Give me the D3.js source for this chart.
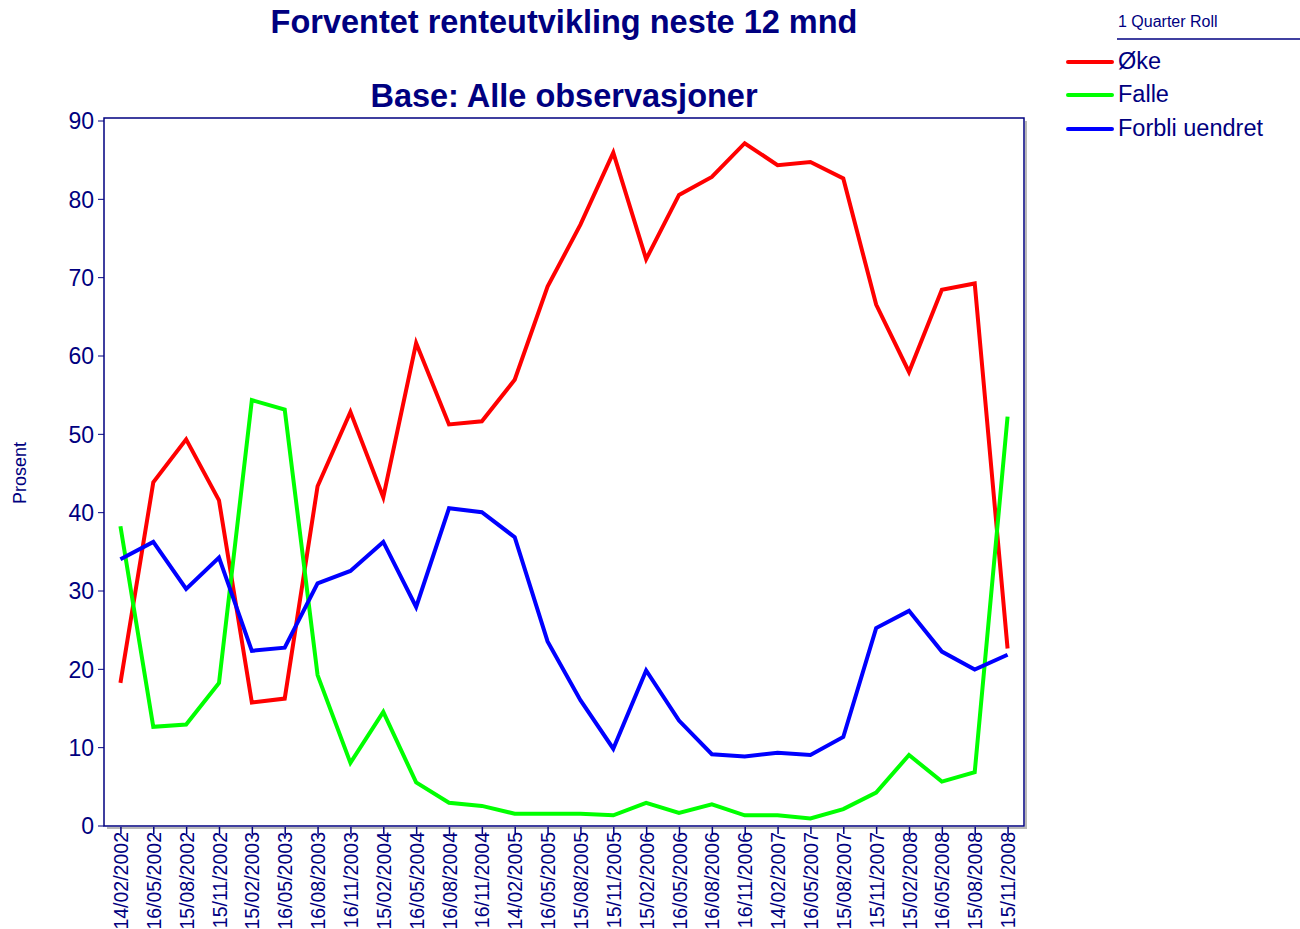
<!DOCTYPE html>
<html>
<head>
<meta charset="utf-8">
<script src="https://cdn.jsdelivr.net/npm/d3@7"></script>
<style>
  body { margin: 0; background: #fff; }
  text { font-family: "Liberation Sans", Arial, sans-serif; fill: #000080; }
</style>
</head>
<body>
<svg width="1300" height="929"></svg>
<script>
// quarterly survey dates
var dates = ["14/02/2002", "16/05/2002", "15/08/2002", "15/11/2002", "15/02/2003", "16/05/2003",
  "16/08/2003", "16/11/2003", "15/02/2004", "16/05/2004", "16/08/2004", "16/11/2004",
  "14/02/2005", "16/05/2005", "15/08/2005", "15/11/2005", "15/02/2006", "16/05/2006",
  "16/08/2006", "16/11/2006", "14/02/2007", "16/05/2007", "15/08/2007", "15/11/2007",
  "15/02/2008", "16/05/2008", "15/08/2008", "15/11/2008"];

var oke = [18.2, 43.8, 49.3, 41.5, 15.7, 16.2, 43.3, 52.8, 41.9, 61.6, 51.2, 51.6, 56.9, 68.8,
  76.7, 85.9, 72.3, 80.5, 82.8, 87.1, 84.3, 84.7, 82.6, 66.5, 57.9, 68.4, 69.2, 22.6];
var falle = [38.2, 12.6, 12.9, 18.2, 54.3, 53.1, 19.2, 8.0, 14.5, 5.5, 2.9, 2.5, 1.5, 1.5,
  1.5, 1.3, 2.9, 1.6, 2.7, 1.3, 1.3, 0.9, 2.1, 4.2, 9.0, 5.6, 6.8, 52.2];
var uendret = [34.0, 36.2, 30.2, 34.2, 22.3, 22.7, 30.9, 32.5, 36.2, 27.9, 40.5, 40.0, 36.8, 23.5,
  16.0, 9.8, 19.8, 13.4, 9.1, 8.8, 9.3, 9.0, 11.3, 25.2, 27.4, 22.2, 19.9, 21.8];

var seriesNames = ["Øke", "Falle", "Forbli uendret"];
var seriesColors = ["#ff0000", "#00ff00", "#0000ff"];
var yTicks = [0, 10, 20, 30, 40, 50, 60, 70, 80, 90];

var navy = "#000080";
var svg = d3.select("svg");

var plotL = 104, plotR = 1024, plotT = 118, plotB = 826;

var x = d3.scalePoint().domain(dates).range([plotL, plotR]).padding(0.5);
var y = d3.scaleLinear().domain([0, 90]).range([825.5, 120.5]);

/* ----------- titles ----------- */
svg.append("text").attr("x", 564).attr("y", 33).attr("text-anchor", "middle")
  .style("font-size", "32.5px").style("font-weight", "bold")
  .text("Forventet renteutvikling neste 12 mnd");
svg.append("text").attr("x", 564).attr("y", 107).attr("text-anchor", "middle")
  .style("font-size", "32.5px").style("font-weight", "bold")
  .text("Base: Alle observasjoner");

/* ----------- frame ----------- */
// grey shadow right / bottom
svg.append("path")
  .attr("d", "M" + (plotR + 2) + "," + (plotT + 3) + "V" + (plotB + 2) + "H" + (plotL + 3))
  .attr("fill", "none").attr("stroke", "#b8b8b8").attr("stroke-width", 2);
svg.append("rect").attr("x", plotL).attr("y", plotT)
  .attr("width", plotR - plotL).attr("height", plotB - plotT)
  .attr("fill", "none").attr("stroke", navy).attr("stroke-width", 1.5);

/* ----------- axes ----------- */
var yAxis = svg.append("g").attr("transform", "translate(" + plotL + ",0)")
  .call(d3.axisLeft(y).tickValues(yTicks).tickSize(6).tickPadding(4));
yAxis.select(".domain").remove();
yAxis.selectAll("line").attr("stroke", navy);
yAxis.selectAll("text").style("font-size", "23px").attr("fill", navy)
  .style("font-family", "'Liberation Sans', Arial, sans-serif").attr("dy", "0.36em");

var xAxis = svg.append("g").attr("transform", "translate(0," + (plotB + 1) + ")")
  .call(d3.axisBottom(x).tickSize(7));
xAxis.select(".domain").remove();
xAxis.selectAll("line").attr("stroke", navy).attr("stroke-width", 1.5);
xAxis.selectAll("text")
  .style("font-size", "19.5px").attr("fill", navy)
  .style("font-family", "'Liberation Sans', Arial, sans-serif")
  .attr("text-anchor", "end")
  .attr("transform", "rotate(-90)")
  .attr("x", -5).attr("y", 0).attr("dy", "0.36em");

svg.append("text")
  .attr("transform", "translate(26,473) rotate(-90)")
  .attr("text-anchor", "middle")
  .style("font-size", "18px")
  .text("Prosent");

/* ----------- lines ----------- */
var series = [oke, falle, uendret];
var line = d3.line()
  .x(function (d, i) { return x(dates[i]); })
  .y(function (d) { return y(d); });

svg.selectAll("path.series").data(series).enter()
  .append("path")
  .attr("class", "series")
  .attr("fill", "none")
  .attr("stroke", function (d, i) { return seriesColors[i]; })
  .attr("stroke-width", 4)
  .attr("d", line);

/* ----------- legend ----------- */
svg.append("text").attr("x", 1118).attr("y", 27).style("font-size", "16px").text("1 Quarter Roll");
svg.append("line").attr("x1", 1117).attr("x2", 1300).attr("y1", 39).attr("y2", 39)
  .attr("stroke", navy).attr("stroke-width", 1.5);

var legendY = [62, 95, 129];
var lg = svg.selectAll("g.legend").data(seriesNames).enter()
  .append("g").attr("class", "legend")
  .attr("transform", function (d, i) { return "translate(0," + legendY[i] + ")"; });
lg.append("line").attr("x1", 1068).attr("x2", 1112)
  .attr("stroke", function (d, i) { return seriesColors[i]; })
  .attr("stroke-width", 4).attr("stroke-linecap", "round");
lg.append("text").attr("x", 1118).attr("y", 7).style("font-size", "23.5px")
  .text(function (d) { return d; });
</script>
</body>
</html>
